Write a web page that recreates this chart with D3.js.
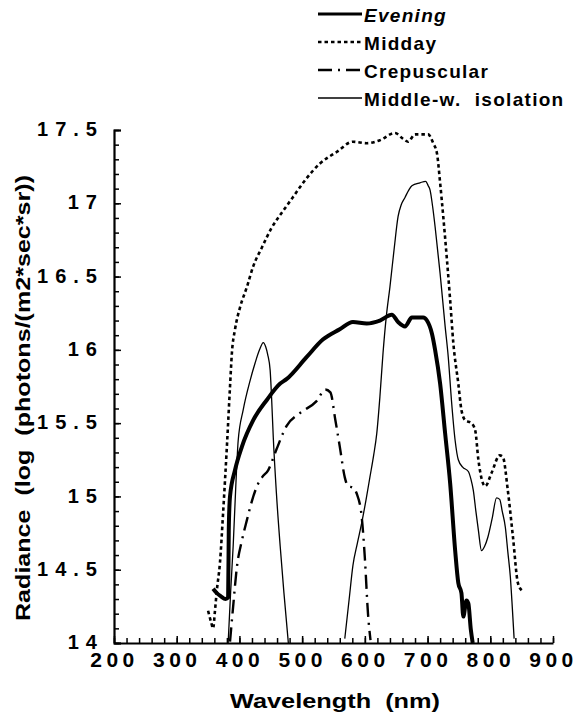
<!DOCTYPE html>
<html>
<head>
<meta charset="utf-8">
<script src="https://cdn.jsdelivr.net/npm/d3@7"></script>
<style>
  body { margin: 0; background: #fff; }
  svg { display: block; font-family: Arial, "Liberation Sans", Helvetica, sans-serif; }
</style>
</head>
<body>
<svg width="581" height="715"></svg>
<script>
// values: [wavelength nm, log radiance]
const midday = [
  [350,14.22],[355,14.14],[358,14.10],[361,14.22],[364,14.36],[369,14.55],[374,14.89],[380,15.34],
  [385,15.75],[388,15.98],[393,16.14],[401,16.29],[412,16.43],[422,16.57],[436,16.70],[451,16.83],
  [470,16.95],[485,17.04],[507,17.17],[528,17.27],[555,17.35],[581,17.42],[603,17.41],[624,17.43],
  [648,17.48],[661,17.44],[669,17.42],[680,17.47],[701,17.47],[709,17.41],[715,17.34],[720,17.14],
  [725,16.91],[731,16.61],[736,16.34],[741,16.05],[749,15.77],[754,15.59],[760,15.52],[770,15.50],
  [776,15.45],[781,15.25],[792,15.07],[802,15.16],[815,15.28],[820,15.27],[828,15.04],[836,14.73],
  [844,14.41],[850,14.36]
];
const evening = [
  [358,14.37],[364,14.34],[370,14.32],[378,14.30],[382,14.31],[383,14.77],[385,15.00],[393,15.18],
  [404,15.34],[422,15.52],[444,15.66],[465,15.77],[475,15.80],[507,15.95],[533,16.07],[560,16.14],
  [581,16.19],[603,16.18],[624,16.20],[643,16.24],[653,16.19],[664,16.16],[675,16.22],[693,16.22],
  [699,16.20],[707,16.11],[712,16.00],[720,15.77],[728,15.43],[736,15.09],[744,14.63],[749,14.41],
  [754,14.34],[757,14.18],[762,14.29],[765,14.27],[769,14.09],[772,14.00]
];
const crepuscular = [
  [385,14.01],[390,14.25],[396,14.52],[404,14.70],[412,14.84],[420,14.97],[428,15.07],[436,15.13],
  [446,15.18],[459,15.32],[475,15.48],[497,15.57],[523,15.65],[537,15.73],[545,15.71],[553,15.52],
  [560,15.34],[568,15.13],[573,15.07],[581,15.06],[587,15.02],[595,14.86],[600,14.58],[605,14.20],
  [609,14.02]
];
const isolationShort = [
  [382,14.00],[386,14.35],[390,14.66],[394,15.05],[398,15.38],[406,15.59],[417,15.79],[425,15.91],
  [432,16.00],[438,16.05],[442,16.02],[445,15.97],[449,15.86],[451,15.70],[454,15.40],[459,15.02],
  [465,14.66],[471,14.34],[478,14.00]
];
const isolationLong = [
  [568,14.03],[575,14.30],[581,14.53],[588,14.68],[595,14.82],[602,14.98],[608,15.13],[614,15.28],
  [619,15.43],[624,15.68],[629,15.98],[634,16.22],[640,16.43],[647,16.70],[653,16.91],[658,16.99],
  [664,17.04],[670,17.09],[675,17.12],[688,17.14],[697,17.15],[701,17.12],[704,17.09],[708,16.98],
  [712,16.84],[716,16.68],[720,16.52],[728,16.16],[733,15.95],[738,15.66],[744,15.38],[749,15.25],
  [756,15.20],[765,15.17],[769,15.12],[773,15.04],[777,14.90],[781,14.77],[786,14.63],[791,14.66],
  [796,14.72],[803,14.85],[810,14.99],[815,14.98],[819,14.90],[824,14.79],[828,14.62],[832,14.45],
  [835,14.25],[838,14.03]
];

const xTicks = [200, 300, 400, 500, 600, 700, 800, 900];
const yTicks = [14, 14.5, 15, 15.5, 16, 16.5, 17, 17.5];
const legendLabels = ["Evening", "Midday", "Crepuscular", "Middle-w.  isolation"];

const svg = d3.select("svg"),
      margin = { top: 130, right: 28, bottom: 72, left: 114 },
      width = +svg.attr("width") - margin.left - margin.right,
      height = +svg.attr("height") - margin.top - margin.bottom;

const g = svg.append("g").attr("transform", `translate(${margin.left},${margin.top})`);

const x = d3.scaleLinear().domain([200, 900]).range([0, width]);
const y = d3.scaleLinear().domain([14, 17.5]).range([height, 0]);

// line styles per series
const styles = {
  evening:     { width: 4,   dash: null },
  midday:      { width: 2.6, dash: "3.5,3" },
  crepuscular: { width: 2.4, dash: "14,6,2,6" },
  isolation:   { width: 1.3, dash: null }
};

// minor ticks
g.append("g")
  .call(d3.axisLeft(y).tickValues(d3.range(14, 17.51, 0.1)).tickSizeInner(-5).tickSizeOuter(0).tickFormat(""))
  .call(a => a.select(".domain").remove())
  .selectAll("line").attr("stroke-width", 1.5);

g.append("g")
  .attr("transform", `translate(0,${height})`)
  .call(d3.axisBottom(x).tickValues(d3.range(200, 901, 20)).tickSizeInner(-5).tickSizeOuter(0).tickFormat(""))
  .call(a => a.select(".domain").remove())
  .selectAll("line").attr("stroke-width", 1.5);

// main axes
const yAxis = g.append("g")
  .call(d3.axisLeft(y).tickValues(yTicks).tickSizeInner(-7).tickSizeOuter(-7).tickPadding(10).tickFormat(d => d));
yAxis.select(".domain").attr("stroke-width", 2.2);
yAxis.selectAll("line").attr("stroke-width", 1.5);
yAxis.selectAll("text")
  .attr("dy", "0.28em")
  .style("font-size", "20px")
  .style("font-weight", "bold")
  .style("letter-spacing", "7px")
  .attr("fill", "#000");

const xAxis = g.append("g")
  .attr("transform", `translate(0,${height})`)
  .call(d3.axisBottom(x).tickValues(xTicks).tickSizeInner(-7).tickSizeOuter(0).tickPadding(9).tickFormat(d => d));
xAxis.select(".domain").attr("stroke-width", 2.2);
xAxis.selectAll("line").attr("stroke-width", 1.5);
xAxis.selectAll("text")
  .attr("dx", "0px")
  .style("font-size", "21px")
  .style("font-weight", "bold")
  .style("letter-spacing", "4.5px")
  .attr("fill", "#000");

// curves
const line = d3.line().x(d => x(d[0])).y(d => y(d[1])).curve(d3.curveMonotoneX);

const series = [
  { data: isolationShort, s: styles.isolation },
  { data: isolationLong, s: styles.isolation },
  { data: crepuscular, s: styles.crepuscular },
  { data: midday, s: styles.midday },
  { data: evening, s: styles.evening }
];

g.selectAll(".curve")
  .data(series)
  .enter()
  .append("path")
  .attr("class", "curve")
  .attr("d", d => line(d.data))
  .attr("fill", "none")
  .attr("stroke", "#000")
  .attr("stroke-width", d => d.s.width)
  .attr("stroke-dasharray", d => d.s.dash)
  .attr("stroke-linejoin", "round");

// axis titles
svg.append("text")
  .attr("x", 335)
  .attr("y", 708)
  .attr("text-anchor", "middle")
  .attr("textLength", 210)
  .attr("lengthAdjust", "spacingAndGlyphs")
  .style("font-size", "21px")
  .style("font-weight", "bold")
  .style("white-space", "pre")
  .text("Wavelength  (nm)");

svg.append("text")
  .attr("transform", "translate(30,398) rotate(-90)")
  .attr("text-anchor", "middle")
  .attr("textLength", 446)
  .attr("lengthAdjust", "spacingAndGlyphs")
  .style("font-size", "21px")
  .style("font-weight", "bold")
  .style("white-space", "pre")
  .text("Radiance  (log  (photons/(m2*sec*sr))");

// legend
const legendKeys = [styles.evening, styles.midday, styles.crepuscular, styles.isolation];
const legend = svg.append("g")
  .attr("class", "legend")
  .attr("transform", "translate(318,14)");

legend.selectAll(".legend-item")
  .data(legendLabels)
  .enter()
  .append("g")
  .attr("class", "legend-item")
  .attr("transform", (d, i) => `translate(0, ${i * 28})`)
  .each(function(d, i) {
    const s = legendKeys[i];
    d3.select(this)
      .append("line")
      .attr("x1", 0)
      .attr("x2", 44)
      .attr("stroke", "#000")
      .attr("stroke-width", i === 0 ? 3 : s.width)
      .attr("stroke-dasharray", s.dash);
    d3.select(this)
      .append("text")
      .attr("x", 46)
      .attr("y", 8)
      .style("font-size", "19px")
      .style("font-weight", "bold")
      .style("font-style", i === 0 ? "italic" : "normal")
      .style("letter-spacing", "1.3px")
      .style("white-space", "pre")
      .text(d);
  });
</script>
</body>
</html>
